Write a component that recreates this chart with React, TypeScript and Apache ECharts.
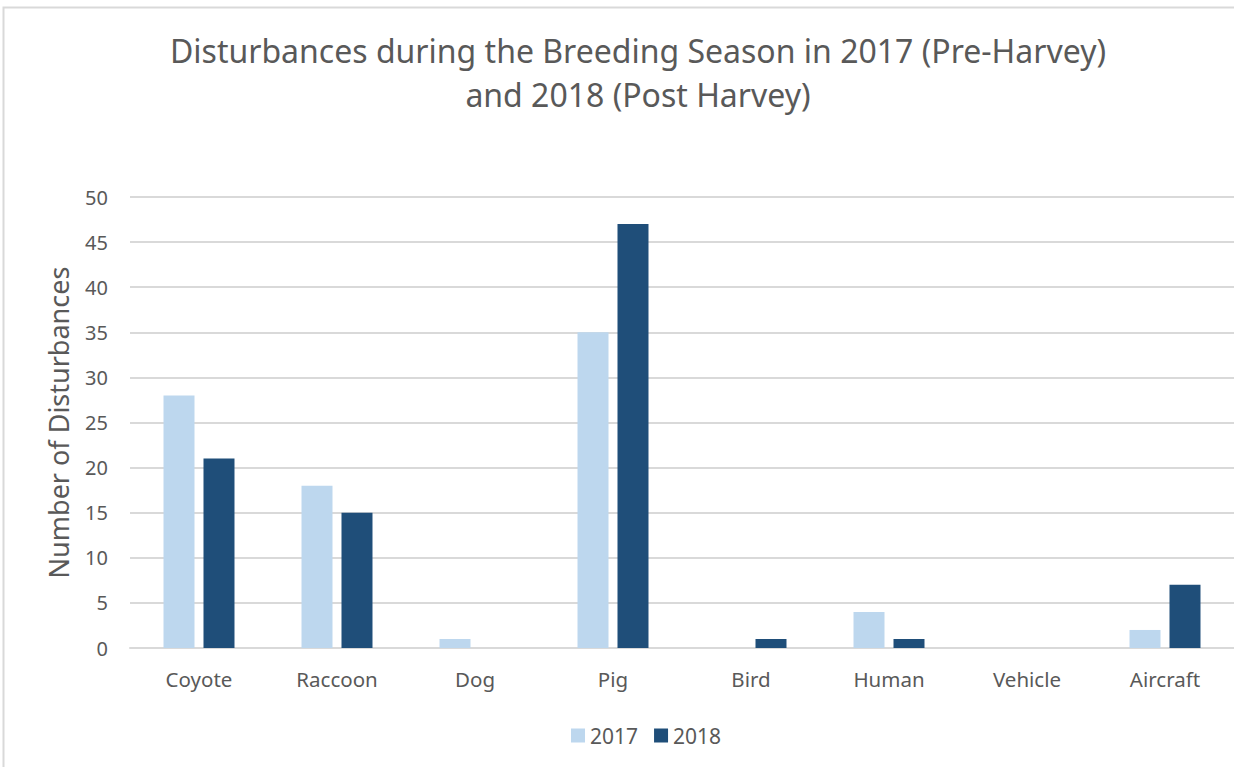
import React, { useEffect, useRef } from "react";
import * as echarts from "echarts";

const categories = ["Coyote", "Raccoon", "Dog", "Pig", "Bird", "Human", "Vehicle", "Aircraft"];
const values2017 = [28, 18, 1, 35, 0, 4, 0, 2];
const values2018 = [21, 15, 0, 47, 1, 1, 0, 7];
const seriesNames = ["2017", "2018"];
const yTicks = { min: 0, max: 50, interval: 5 };

const FONT = "'Noto Sans', 'Open Sans', sans-serif";
const TEXT = "#595959";

export default function App() {
  const ref = useRef<HTMLDivElement>(null);

  useEffect(() => {
    document.body.style.margin = "0";
    const chart = echarts.init(ref.current!, null, { renderer: "svg" });
    chart.setOption({
      animation: false,
      backgroundColor: "#ffffff",
      textStyle: { fontFamily: FONT, color: TEXT },
      title: {
        text: "Disturbances during the Breeding Season in 2017 (Pre-Harvey)\nand 2018 (Post Harvey)",
        left: 633,
        textAlign: "center",
        top: 23,
        textStyle: { fontFamily: FONT, fontSize: 32, fontWeight: "normal", color: TEXT, lineHeight: 44 },
      },
      legend: {
        data: seriesNames,
        left: 566,
        top: 720,
        itemWidth: 14,
        itemHeight: 14,
        itemGap: 16,
        icon: "rect",
        textStyle: { fontFamily: FONT, fontSize: 21, color: TEXT },
      },
      grid: { left: 130, right: -11, top: 197, bottom: 767 - 648, containLabel: false },
      xAxis: {
        type: "category",
        data: categories,
        axisLine: { show: true, lineStyle: { color: "#D9D9D9", width: 2 } },
        axisTick: { show: false },
        axisLabel: { fontFamily: FONT, fontSize: 20.5, color: TEXT, margin: 20 },
      },
      yAxis: {
        type: "value",
        min: yTicks.min,
        max: yTicks.max,
        interval: yTicks.interval,
        name: "Number of Disturbances",
        nameLocation: "middle",
        nameGap: 58,
        nameTextStyle: { fontFamily: FONT, fontSize: 27, color: TEXT },
        axisLine: { show: false },
        axisTick: { show: false },
        axisLabel: { fontFamily: FONT, fontSize: 20, color: TEXT, margin: 22 },
        splitLine: { lineStyle: { color: "#D9D9D9", width: 2 } },
      },
      series: [
        {
          name: seriesNames[0],
          type: "bar",
          data: values2017,
          itemStyle: { color: "#BDD7EE" },
          barWidth: 31,
          barGap: "29%",
        },
        {
          name: seriesNames[1],
          type: "bar",
          data: values2018,
          itemStyle: { color: "#1F4E79" },
          barWidth: 31,
          barGap: "29%",
        },
      ],
      graphic: [
        {
          type: "rect",
          shape: { x: 3.5, y: 7.5, width: 1300, height: 800 },
          style: { fill: "none", stroke: "#D9D9D9", lineWidth: 2 },
          silent: true,
        },
      ],
    });
    return () => chart.dispose();
  }, []);

  return <div ref={ref} style={{ width: 1234, height: 767 }} />;
}
